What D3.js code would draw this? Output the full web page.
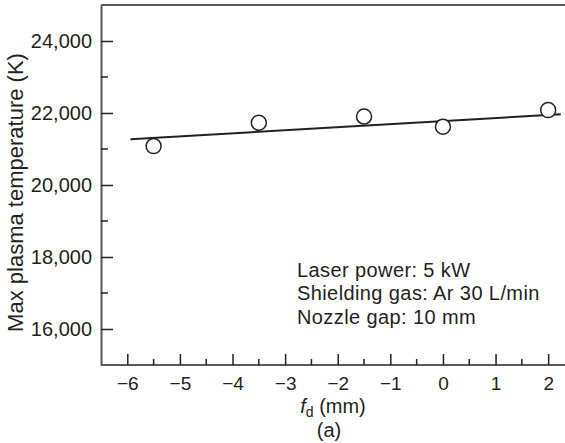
<!DOCTYPE html>
<html>
<head>
<meta charset="utf-8">
<script src="https://cdn.jsdelivr.net/npm/d3@7"></script>
<style>
  body { margin: 0; background: #fff; }
  text { font-family: "Liberation Sans", Arial, sans-serif; fill: #231f20; }
</style>
</head>
<body>
<div id="chart"></div>
<script>
// measured points
const fd = [-5.5, -3.5, -1.5, 0, 2];
const temp = [21080, 21730, 21900, 21620, 22080];
// fitted line end points
const fitX = [-5.94, 2.24];
const fitY = [21270, 21965];
const xMajor = [-6, -5, -4, -3, -2, -1, 0, 1, 2];
const xMinor = [-5.5, -4.5, -3.5, -2.5, -1.5, -0.5, 0.5, 1.5];
const yMajor = [16000, 18000, 20000, 22000, 24000];
const yMinor = [17000, 19000, 21000, 23000];
const notes = ["Laser power: 5 kW", "Shielding gas: Ar 30 L/min", "Nozzle gap: 10 mm"];

const width = 565, height = 443;
const margin = { top: 5, right: 0, bottom: 78, left: 101 };
const axisColor = "#58595b";
const ink = "#231f20";

const svg = d3.select("#chart").append("svg")
  .attr("width", width)
  .attr("height", height);

const x = d3.scaleLinear().domain([-6.5, 2.32]).range([margin.left, width - margin.right]);
const y = d3.scaleLinear().domain([15000, 25000]).range([height - margin.bottom, margin.top]);

// top border
svg.append("line")
  .attr("x1", margin.left).attr("x2", width)
  .attr("y1", margin.top).attr("y2", margin.top)
  .attr("stroke", axisColor).attr("stroke-width", 2);

// x axis
const xAxis = svg.append("g")
  .attr("transform", `translate(0,${height - margin.bottom})`)
  .call(d3.axisBottom(x).tickValues(xMajor).tickSizeInner(-11).tickSizeOuter(0)
    .tickFormat(d => d3.format("d")(d).replace("-", "\u2212")));
xAxis.select(".domain").attr("stroke", axisColor).attr("stroke-width", 2)
  .attr("d", `M${margin.left},0H${width}`);
xAxis.selectAll(".tick line").attr("stroke", ink).attr("stroke-width", 1.5);
xAxis.selectAll(".tick text")
  .attr("y", 12).attr("dy", "0.71em")
  .attr("font-size", 19).attr("fill", ink)
  .attr("font-family", "Liberation Sans, Arial, sans-serif");

svg.append("g")
  .attr("transform", `translate(0,${height - margin.bottom})`)
  .selectAll("line").data(xMinor).join("line")
  .attr("x1", d => x(d)).attr("x2", d => x(d))
  .attr("y1", 0).attr("y2", -6)
  .attr("stroke", ink).attr("stroke-width", 1.5);

// y axis
const yAxis = svg.append("g")
  .attr("transform", `translate(${margin.left},0)`)
  .call(d3.axisLeft(y).tickValues(yMajor).tickSizeInner(-12).tickSizeOuter(0)
    .tickFormat(d3.format(",")));
yAxis.select(".domain").attr("stroke", axisColor).attr("stroke-width", 2);
yAxis.selectAll(".tick line").attr("stroke", ink).attr("stroke-width", 1.5);
yAxis.selectAll(".tick text")
  .attr("x", -9)
  .attr("font-size", 20).attr("fill", ink)
  .attr("font-family", "Liberation Sans, Arial, sans-serif");

svg.append("g")
  .attr("transform", `translate(${margin.left},0)`)
  .selectAll("line").data(yMinor).join("line")
  .attr("x1", 0).attr("x2", 7)
  .attr("y1", d => y(d)).attr("y2", d => y(d))
  .attr("stroke", ink).attr("stroke-width", 1.5);

// fit line
svg.append("path")
  .datum(fitX.map((d, i) => [d, fitY[i]]))
  .attr("fill", "none")
  .attr("stroke", ink)
  .attr("stroke-width", 2)
  .attr("d", d3.line().x(d => x(d[0])).y(d => y(d[1])));

// points
svg.selectAll(".pt").data(fd).join("circle")
  .attr("class", "pt")
  .attr("cx", d => x(d))
  .attr("cy", (d, i) => y(temp[i]))
  .attr("r", 7.5)
  .attr("fill", "#fff")
  .attr("stroke", ink)
  .attr("stroke-width", 1.5);

// notes
svg.append("g").selectAll("text").data(notes).join("text")
  .attr("x", 297)
  .attr("y", (d, i) => 277 + i * 23.3)
  .attr("font-size", 20)
  .attr("letter-spacing", 0.4)
  .text(d => d);

// axis titles
const xt = svg.append("text")
  .attr("x", 333)
  .attr("y", 413)
  .attr("text-anchor", "middle")
  .attr("font-size", 20);
xt.append("tspan").attr("font-style", "italic").text("f");
xt.append("tspan").attr("font-size", 14).attr("dy", 4).text("d");
xt.append("tspan").attr("dy", -4).text(" (mm)");

svg.append("text")
  .attr("x", 329)
  .attr("y", 437)
  .attr("text-anchor", "middle")
  .attr("font-size", 20)
  .text("(a)");

svg.append("text")
  .attr("transform", "translate(23,192.5) rotate(-90)")
  .attr("text-anchor", "middle")
  .attr("font-size", 22)
  .text("Max plasma temperature (K)");
</script>
</body>
</html>
